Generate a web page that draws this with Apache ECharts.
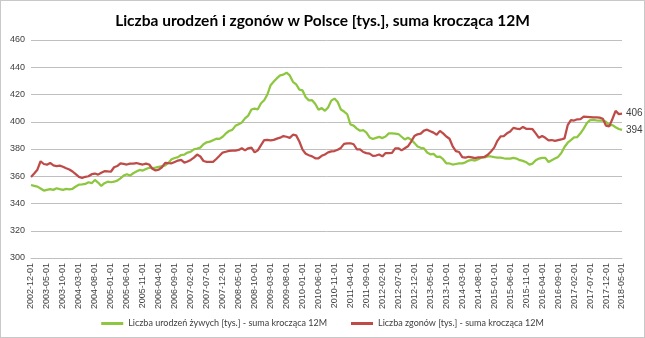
<!DOCTYPE html>
<html>
<head>
<meta charset="utf-8">
<script src="https://cdn.jsdelivr.net/npm/echarts@6/dist/echarts.min.js"></script>
<style>
  html, body { margin: 0; padding: 0; background: #fff; }
  #chart { width: 643px; height: 336px; border: 1px solid #c8c8c8; }
</style>
</head>
<body>
<div id="chart"></div>
<script>
// Monthly categories: 2002-12 ... 2018-05
const startYear = 2002, startMonth = 12, monthCount = 186;
const months = [];
for (let k = 0; k < monthCount; k++) {
  const m0 = startMonth - 1 + k;
  const y = startYear + Math.floor(m0 / 12);
  const m = (m0 % 12) + 1;
  months.push(y + '-' + String(m).padStart(2, '0') + '-01');
}

// Live births, 12-month rolling sum [thousands]
const births = [
  353.6, 353.0, 352.4, 351.0, 349.5, 350.0, 350.5, 350.0, 351.2, 350.5,
  350.0, 350.7, 350.3, 350.8, 352.5, 353.8, 354.0, 354.4, 355.6, 354.9,
  357.3, 355.4, 352.9, 354.9, 356.0, 355.6, 356.0, 356.8, 358.5, 360.5,
  361.5, 360.5, 362.2, 363.4, 364.6, 364.2, 365.3, 366.3, 365.9, 366.3,
  366.9, 367.4, 368.0, 369.8, 372.5, 373.4, 374.0, 375.6, 375.9, 377.4,
  378.0, 379.8, 380.3, 381.0, 383.5, 384.9, 385.4, 386.5, 387.6, 387.4,
  389.0, 391.4, 393.2, 394.0, 397.0, 398.2, 399.5, 402.5, 404.5, 409.0,
  409.6, 409.1, 413.6, 415.8, 420.0, 426.8, 429.5, 432.0, 434.0, 434.6,
  436.0, 434.0, 429.3, 427.5, 423.6, 423.0, 418.0, 415.7, 415.8, 413.0,
  408.8, 410.0, 408.0, 410.5, 415.5, 417.0, 414.5, 409.0, 407.5, 405.5,
  398.0, 397.2, 395.0, 393.4, 393.8, 392.0, 388.5, 387.3, 388.2, 388.9,
  388.0, 389.2, 391.5, 391.5, 391.3, 391.0, 389.0, 387.0, 388.3, 386.8,
  384.5, 381.8, 380.9, 380.5, 377.4, 376.1, 376.4, 374.2, 374.4, 372.5,
  369.5, 369.4, 368.6, 369.0, 369.4, 369.5, 370.2, 371.5, 372.0, 371.5,
  372.5, 373.8, 373.9, 374.5, 374.5, 374.0, 373.7, 373.7, 373.2, 373.0,
  372.9, 373.5, 373.0, 371.8, 371.3, 370.3, 368.5, 369.3, 371.8, 373.0,
  373.5, 373.5, 370.5, 371.8, 373.0, 374.2, 377.0, 381.5, 384.6, 386.5,
  388.5, 388.8, 391.5, 395.0, 399.0, 401.2, 401.3, 401.0, 400.8, 401.0,
  400.0, 397.5, 397.5, 396.0, 394.7, 394.0
];

// Deaths, 12-month rolling sum [thousands]
const deaths = [
  359.5, 362.0, 364.8, 371.0, 369.0, 368.5, 369.8, 368.0, 367.5, 367.8,
  367.0, 365.9, 365.0, 363.5, 361.5, 359.5, 358.7, 359.6, 360.0, 361.5,
  362.0, 361.2, 362.5, 363.7, 363.5, 363.3, 366.6, 367.5, 369.4, 369.1,
  368.6, 369.3, 369.3, 369.7, 369.1, 368.6, 369.3, 368.6, 365.5, 364.2,
  364.8, 366.6, 369.8, 369.6, 369.5, 370.5, 371.5, 372.0, 370.0, 370.8,
  372.0, 373.7, 375.9, 374.5, 371.2, 370.6, 370.6, 370.5, 372.7, 375.0,
  377.4, 378.0, 378.6, 378.8, 378.8, 379.3, 380.5, 379.0, 380.5, 381.0,
  377.5, 379.0, 382.8, 386.5, 386.7, 386.4, 386.7, 387.6, 388.3, 389.5,
  389.0, 388.2, 390.5, 390.0, 385.5, 379.5, 376.5, 375.4, 374.6, 373.2,
  373.2, 375.0, 376.0, 377.5, 378.2, 378.5, 379.4, 380.8, 383.8, 384.2,
  384.2, 383.5, 379.8, 379.8, 377.8, 377.0, 376.6, 375.0, 375.2, 376.0,
  374.6, 377.0, 377.0, 377.2, 380.5, 380.5, 379.0, 380.5, 382.0, 385.5,
  389.5, 390.8, 391.3, 393.5, 394.2, 393.0, 392.0, 390.5, 393.3, 391.5,
  389.2, 387.5, 382.0, 378.4, 377.8, 374.0, 373.7, 374.3, 373.9, 373.3,
  373.8, 373.9, 374.3, 375.8, 378.2, 381.0, 386.0, 389.3, 389.5, 391.5,
  392.8, 395.5, 395.0, 394.6, 396.2, 394.8, 394.7, 394.5, 391.5, 388.2,
  389.5, 388.2, 386.4, 386.6, 386.0, 386.5, 387.0, 387.8, 397.5, 401.2,
  400.9, 401.8, 402.0, 403.8, 403.6, 403.4, 403.2, 403.2, 403.0, 402.2,
  397.1, 396.6, 402.0, 408.0, 405.6, 406.0
];

const yTicks = { min: 300, max: 460, step: 20 };
const seriesNames = [
  'Liczba urodzeń żywych [tys.] - suma krocząca 12M',
  'Liczba zgonów [tys.] - suma krocząca 12M'
];
const titleText = 'Liczba urodzeń i zgonów w Polsce [tys.], suma krocząca 12M';

// Value shown just right of the last point of each line
const endLabel = {
  show: true,
  distance: 4,
  formatter: p => String(Math.round(p.value)),
  color: '#404040',
  fontSize: 10,
  fontFamily: 'Liberation Sans'
};

const chart = echarts.init(document.getElementById('chart'), null, { renderer: 'canvas' });
chart.setOption({
  animation: false,
  backgroundColor: '#ffffff',
  textStyle: { fontFamily: 'Liberation Sans' },
  title: {
    text: titleText,
    left: 'center',
    top: 7,
    textStyle: { fontSize: 15.5, fontWeight: 'bold', color: '#000', fontFamily: 'Lato' }
  },
  legend: {
    bottom: 4,
    left: 'center',
    itemWidth: 22,
    itemHeight: 3,
    itemGap: 24,
    icon: 'rect',
    textStyle: { fontSize: 9, color: '#404040', fontFamily: 'Lato' },
    data: seriesNames
  },
  grid: { left: 30, right: 22, top: 39, bottom: 79, containLabel: false },
  xAxis: {
    type: 'category',
    data: months,
    boundaryGap: false,
    axisLine: { show: true, lineStyle: { color: '#bfbfbf', width: 1 } },
    axisTick: { show: false },
    axisLabel: { interval: 4, rotate: 90, fontSize: 9, color: '#404040', margin: 5 },
    splitLine: { show: false }
  },
  yAxis: {
    type: 'value',
    min: yTicks.min,
    max: yTicks.max,
    interval: yTicks.step,
    axisLine: { show: false },
    axisTick: { show: false },
    axisLabel: { fontSize: 9, color: '#404040', margin: 6 },
    splitLine: { lineStyle: { color: '#bfbfbf', width: 1 } }
  },
  series: [
    {
      name: seriesNames[0],
      type: 'line',
      data: births,
      showSymbol: false,
      symbol: 'none',
      lineStyle: { color: '#8dc63f', width: 2.25 },
      itemStyle: { color: '#8dc63f' },
      endLabel: endLabel
    },
    {
      name: seriesNames[1],
      type: 'line',
      data: deaths,
      showSymbol: false,
      symbol: 'none',
      lineStyle: { color: '#be4b48', width: 2.25 },
      itemStyle: { color: '#be4b48' },
      endLabel: endLabel
    }
  ]
});
</script>
</body>
</html>
